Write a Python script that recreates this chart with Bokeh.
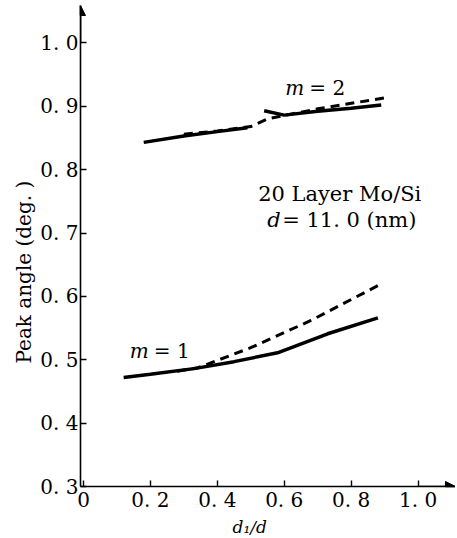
from bokeh.plotting import figure
from bokeh.models import Label, Arrow, NormalHead, FixedTicker, Range1d, Title
from bokeh.embed import file_html
from bokeh.resources import INLINE

# ---- data ----
m1_solid_x = [0.12, 0.20, 0.33, 0.45, 0.58, 0.73, 0.88]
m1_solid_y = [0.472, 0.477, 0.486, 0.497, 0.511, 0.541, 0.566]
m1_dash_x = [0.28, 0.34, 0.50, 0.68, 0.88]
m1_dash_y = [0.482, 0.487, 0.519, 0.562, 0.617]

m2_solid_a_x = [0.18, 0.30, 0.40, 0.49]
m2_solid_a_y = [0.843, 0.853, 0.860, 0.866]
m2_solid_b_x = [0.54, 0.60, 0.70, 0.80, 0.89]
m2_solid_b_y = [0.893, 0.886, 0.892, 0.897, 0.902]
m2_dash_x = [0.30, 0.40, 0.50, 0.55, 0.70, 0.91]
m2_dash_y = [0.856, 0.861, 0.868, 0.880, 0.896, 0.914]

x_ticks = [0, 0.2, 0.4, 0.6, 0.8, 1.0]
x_tick_labels = ["0", "0. 2", "0. 4", "0. 6", "0. 8", "1. 0"]
y_ticks = [0.3, 0.4, 0.5, 0.6, 0.7, 0.8, 0.9, 1.0]
y_tick_labels = ["0. 3", "0. 4", "0. 5", "0. 6", "0. 7", "0. 8", "0. 9", "1. 0"]

FONT = "DejaVu Serif"
X0, X1 = -0.009, 1.112
Y0, Y1 = 0.3, 1.059

p = figure(width=455, height=538, output_backend="svg", toolbar_location=None,
           x_range=Range1d(X0, X1), y_range=Range1d(Y0, Y1),
           min_border_left=80, min_border_right=0, min_border_top=5,
           min_border_bottom=52)
p.outline_line_color = None
p.xgrid.grid_line_color = None
p.ygrid.grid_line_color = None
p.background_fill_color = "white"

for ax in (p.xaxis[0], p.yaxis[0]):
    ax.axis_line_color = "black"
    ax.axis_line_width = 1.6
    ax.major_tick_line_color = "black"
    ax.major_tick_line_width = 1.4
    ax.major_tick_in = 6
    ax.major_tick_out = 0
    ax.minor_tick_line_color = None
    ax.major_label_text_font = FONT
    ax.major_label_text_color = "black"
    ax.major_label_text_font_size = "20px"

p.xaxis[0].ticker = FixedTicker(ticks=x_ticks)
p.xaxis[0].major_label_overrides = {t: l for t, l in zip(x_ticks, x_tick_labels)}
p.xaxis[0].major_label_standoff = 1

p.yaxis[0].ticker = FixedTicker(ticks=y_ticks)
p.yaxis[0].major_label_overrides = {t: l for t, l in zip(y_ticks, y_tick_labels)}
p.yaxis[0].major_label_standoff = 2

# axis titles (as side titles so they can be shifted like in the original)
p.add_layout(Title(text="Peak angle (deg. )", text_font=FONT, text_font_size="20px",
                   text_font_style="normal", text_color="black", align="left",
                   offset=123, standoff=4), "left")
p.add_layout(Title(text="d\u2081/d", text_font=FONT, text_font_size="17px",
                   text_font_style="italic", text_color="black", align="left",
                   offset=152, standoff=0), "below")

# axis arrows
p.add_layout(Arrow(end=NormalHead(size=10, fill_color="black", line_color="black"),
                   x_start=X0, y_start=1.0, x_end=X0, y_end=Y1,
                   line_width=1.6, line_color="black"))
p.add_layout(Arrow(end=NormalHead(size=10, fill_color="black", line_color="black"),
                   x_start=1.0, y_start=Y0, x_end=X1, y_end=Y0,
                   line_width=1.6, line_color="black"))

# curves
p.line(m1_solid_x, m1_solid_y, line_color="black", line_width=3.5)
p.line(m1_dash_x, m1_dash_y, line_color="black", line_width=3, line_dash="9 6")
p.line(m2_solid_a_x, m2_solid_a_y, line_color="black", line_width=3.5)
p.line(m2_solid_b_x, m2_solid_b_y, line_color="black", line_width=3.5)
p.line(m2_dash_x, m2_dash_y, line_color="black", line_width=3, line_dash="9 6")

# annotations
def lab(x, y, t, style="normal", size="20px", align="left"):
    p.add_layout(Label(x=x, y=y, text=t, text_font=FONT, text_font_size=size,
                       text_font_style=style, text_align=align,
                       text_baseline="middle", text_color="black"))

lab(0.603, 0.929, "m", "italic", "20px")
lab(0.675, 0.929, "= 2", "normal", "20px")
lab(0.138, 0.514, "m", "italic", "20px")
lab(0.210, 0.514, "= 1", "normal", "20px")
lab(0.522, 0.762, "20 Layer Mo/Si", "normal", "21px")
lab(0.549, 0.720, "d", "italic", "21px")
lab(0.594, 0.720, "= 11. 0 (nm)", "normal", "21px")

open("out.html", "w").write(file_html(p, INLINE))
